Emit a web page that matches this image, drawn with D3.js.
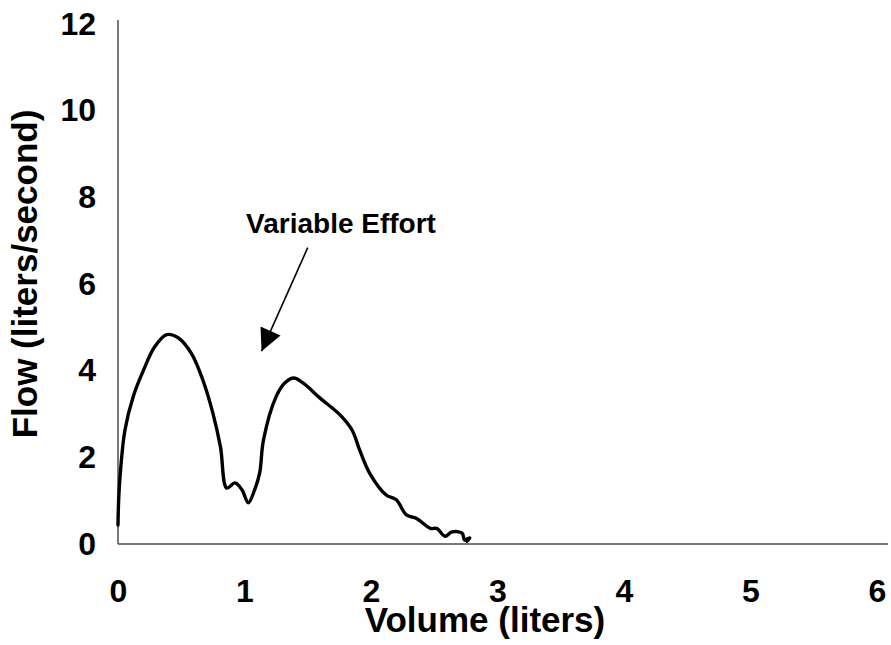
<!DOCTYPE html>
<html><head><meta charset="utf-8">
<script src="https://cdn.jsdelivr.net/npm/d3@7"></script>
<style>body{margin:0;background:#fff}</style>
</head><body>
<svg id="c" width="891" height="645"></svg>
<script>
const volume = [0.0,0.005,0.02,0.055,0.12,0.2,0.29,0.385,0.475,0.58,0.67,0.75,0.81,0.86,0.925,0.98,1.03,1.08,1.12,1.15,1.25,1.32,1.39,1.465,1.6,1.755,1.85,1.91,1.99,2.12,2.2,2.28,2.36,2.47,2.52,2.585,2.64,2.72,2.74,2.77,2.76,2.78];
const flow   = [0.44,1.0,1.7,2.63,3.4,4.0,4.55,4.83,4.76,4.4,3.79,3.02,2.24,1.29,1.41,1.25,0.95,1.25,1.64,2.4,3.4,3.72,3.83,3.71,3.36,2.98,2.63,2.17,1.63,1.13,1.02,0.67,0.59,0.36,0.36,0.18,0.28,0.25,0.09,0.13,0.06,0.14];
const xTicks = [0,1,2,3,4,5,6];
const yTicks = [0,2,4,6,8,10,12];
const annotation = {text:"Variable Effort", from:[1.50,6.84], to:[1.135,4.45]};

const svg = d3.select("#c");
const x = d3.scaleLinear().domain([0,6]).range([118,877]);
const y = d3.scaleLinear().domain([0,12]).range([544,24]);

// axes lines
svg.append("line").attr("x1",x(0)).attr("x2",888).attr("y1",y(0)).attr("y2",y(0)).attr("stroke","#4d4d4d").attr("stroke-width",1.5);
svg.append("line").attr("x1",x(0)).attr("x2",x(0)).attr("y1",y(0)).attr("y2",20).attr("stroke","#4d4d4d").attr("stroke-width",1.5);

const font = "Liberation Sans, Arial, sans-serif";
const xa = svg.append("g").attr("transform",`translate(0,${y(0)})`).call(d3.axisBottom(x).tickValues(xTicks).tickSize(0).tickPadding(35).tickFormat(d3.format("d")));
xa.select(".domain").remove();
xa.attr("font-size",32).attr("font-family",font).attr("font-weight","bold");
xa.selectAll("text").attr("fill","#000");
const ya = svg.append("g").attr("transform",`translate(${x(0)},0)`).call(d3.axisLeft(y).tickValues(yTicks).tickSize(0).tickPadding(22).tickFormat(d3.format("d")));
ya.select(".domain").remove();
ya.attr("font-size",32).attr("font-family",font).attr("font-weight","bold");
ya.selectAll("text").attr("fill","#000");

svg.append("text").attr("x",485).attr("y",632).attr("text-anchor","middle").attr("font-family",font).attr("font-size",35).attr("font-weight","bold").text("Volume (liters)");
svg.append("text").attr("transform","translate(37,274) rotate(-90)").attr("text-anchor","middle").attr("font-family",font).attr("font-size",35).attr("font-weight","bold").text("Flow (liters/second)");

const pts = volume.map((v,i)=>[v,flow[i]]);
svg.append("path").datum(pts).attr("fill","none").attr("stroke","#000").attr("stroke-width",3.4).attr("stroke-linejoin","round").attr("stroke-linecap","round")
  .attr("d", d3.line().x(d=>x(d[0])).y(d=>y(d[1])).curve(d3.curveCatmullRom.alpha(0.5)));

// annotation
const defs = svg.append("defs");
defs.append("marker").attr("id","ah").attr("viewBox","0 0 10 10").attr("refX",10).attr("refY",5).attr("markerWidth",23).attr("markerHeight",22).attr("markerUnits","userSpaceOnUse").attr("orient","auto")
  .append("path").attr("d","M0,0 L10,5 L0,10 Z").attr("fill","#000");
svg.append("line").attr("x1",x(annotation.from[0])).attr("y1",y(annotation.from[1])).attr("x2",x(annotation.to[0])).attr("y2",y(annotation.to[1])).attr("stroke","#000").attr("stroke-width",1.6).attr("marker-end","url(#ah)");
svg.append("text").attr("x",341).attr("y",233).attr("text-anchor","middle").attr("font-family",font).attr("font-size",28).attr("font-weight","bold").text(annotation.text);
</script>
</body></html>
